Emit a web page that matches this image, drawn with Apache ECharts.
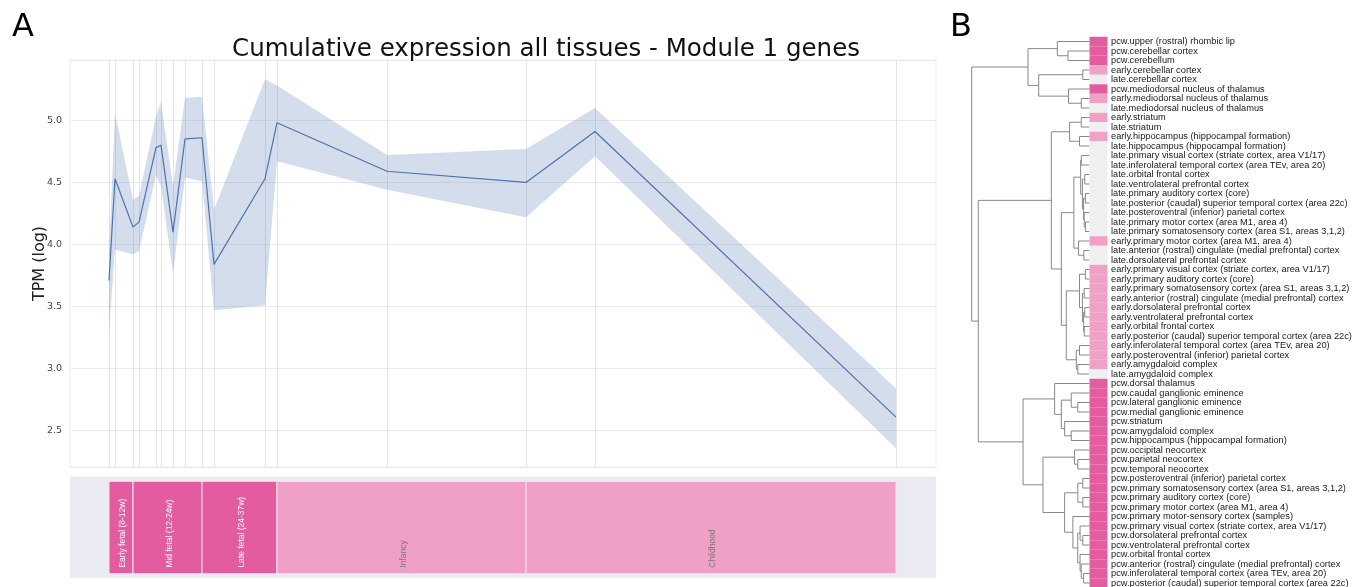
<!DOCTYPE html>
<html><head><meta charset="utf-8">
<script src="https://cdn.jsdelivr.net/npm/echarts@6/dist/echarts.min.js"></script>
<style>html,body{margin:0;padding:0;background:#fff}#c{width:1364px;height:587px}</style>
</head><body><div id="c"></div>
<script>
// ---- Panel A data ----
const ages = [39, 45, 63, 69, 86, 91, 103, 115, 132, 144, 195, 207, 317, 456, 525, 826];
const meanTPM = [3.71, 4.53, 4.14, 4.18, 4.78, 4.80, 4.10, 4.85, 4.86, 3.84, 4.53, 4.98, 4.59, 4.50, 4.91, 2.61];
const lowerTPM = [3.30, 3.96, 3.92, 3.95, 4.56, 4.47, 3.77, 4.54, 4.51, 3.47, 3.51, 4.67, 4.44, 4.22, 4.71, 2.36];
const upperTPM = [3.95, 5.06, 4.36, 4.39, 5.03, 5.15, 4.47, 5.18, 5.19, 4.28, 5.33, 5.28, 4.72, 4.77, 5.10, 2.84];
const stageNames = ['Early fetal (8-12w)', 'Mid fetal (12-24w)', 'Late fetal (24-37w)', 'Infancy', 'Childhood'];
const stageStart = [39, 63, 132, 207, 456];
const stageEnd = [63, 132, 207, 456, 826];
const stageGroup = ['fetal', 'fetal', 'fetal', 'postnatal', 'postnatal'];

// ---- Panel B data ----
const tissueLabels = [
'pcw.upper (rostral) rhombic lip','pcw.cerebellar cortex','pcw.cerebellum','early.cerebellar cortex','late.cerebellar cortex',
'pcw.mediodorsal nucleus of thalamus','early.mediodorsal nucleus of thalamus','late.mediodorsal nucleus of thalamus',
'early.striatum','late.striatum','early.hippocampus (hippocampal formation)','late.hippocampus (hippocampal formation)',
'late.primary visual cortex (striate cortex, area V1/17)','late.inferolateral temporal cortex (area TEv, area 20)',
'late.orbital frontal cortex','late.ventrolateral prefrontal cortex','late.primary auditory cortex (core)',
'late.posterior (caudal) superior temporal cortex (area 22c)','late.posteroventral (inferior) parietal cortex',
'late.primary motor cortex (area M1, area 4)','late.primary somatosensory cortex (area S1, areas 3,1,2)',
'early.primary motor cortex (area M1, area 4)','late.anterior (rostral) cingulate (medial prefrontal) cortex',
'late.dorsolateral prefrontal cortex','early.primary visual cortex (striate cortex, area V1/17)',
'early.primary auditory cortex (core)','early.primary somatosensory cortex (area S1, areas 3,1,2)',
'early.anterior (rostral) cingulate (medial prefrontal) cortex','early.dorsolateral prefrontal cortex',
'early.ventrolateral prefrontal cortex','early.orbital frontal cortex',
'early.posterior (caudal) superior temporal cortex (area 22c)','early.inferolateral temporal cortex (area TEv, area 20)',
'early.posteroventral (inferior) parietal cortex','early.amygdaloid complex','late.amygdaloid complex',
'pcw.dorsal thalamus','pcw.caudal ganglionic eminence','pcw.lateral ganglionic eminence','pcw.medial ganglionic eminence',
'pcw.striatum','pcw.amygdaloid complex','pcw.hippocampus (hippocampal formation)','pcw.occipital neocortex',
'pcw.parietal neocortex','pcw.temporal neocortex','pcw.posteroventral (inferior) parietal cortex',
'pcw.primary somatosensory cortex (area S1, areas 3,1,2)','pcw.primary auditory cortex (core)',
'pcw.primary motor cortex (area M1, area 4)','pcw.primary motor-sensory cortex (samples)',
'pcw.primary visual cortex (striate cortex, area V1/17)','pcw.dorsolateral prefrontal cortex',
'pcw.ventrolateral prefrontal cortex','pcw.orbital frontal cortex',
'pcw.anterior (rostral) cingulate (medial prefrontal) cortex','pcw.inferolateral temporal cortex (area TEv, area 20)',
'pcw.posterior (caudal) superior temporal cortex (area 22c)'
];
// dendrogram: [mergeHeight, left, right]; leaves are row numbers (1-based)
const dendrogram =
[1.0,
  [0.522, [0.273, 1, [0.183, 2, 3]], [0.431, [0.057, 4, 5], [0.178, 6, [0.070, 7, 8]]]],
  [0.944,
    [0.324,
      [0.169, [0.070, 9, 10], [0.085, 11, 12]],
      [0.239,
        [0.133,
          [0.075, [0.07, 13, 14], [0.06, [0.04, 15, 16], [0.05, [0.035, 17, 18], [0.045, 19, [0.035, 20, 21]]]]],
          [0.093, 22, [0.048, 23, 24]]],
        [0.197,
          [0.085, [0.035, 25, 26], [0.06, [0.045, 27, 28], [0.05, [0.04, 29, 30], [0.045, 31, 32]]]],
          [0.112, [0.085, 33, 34], [0.099, 35, 36]]]]],
    [0.564,
      [0.296, 37, [0.239, [0.155, 38, [0.099, 39, 40]], [0.211, 41, [0.155, 42, 43]]]],
      [0.395,
        [0.127, 44, [0.099, 45, 46]],
        [0.211,
          [0.099, [0.057, 47, 48], [0.057, 49, 50]],
          [0.141, 51, [0.1, [0.08, 52, [0.057, 53, 54]], [0.08, 55, [0.07, 56, [0.05, 57, 58]]]]]]]]]];

// ---- build ----
const stripColors = {pcw: '#e35c9f', early: '#f0a1c7', late: '#efefef'};
const segs = [];
function layoutTree(node) {
  if (typeof node === 'number') return {h: 0, y: node};
  const a = layoutTree(node[1]), b = layoutTree(node[2]), h = node[0];
  segs.push({coords: [[a.h, a.y], [h, a.y], [h, b.y], [b.h, b.y]]});
  return {h: h, y: (a.y + b.y) / 2};
}
layoutTree(dendrogram);

const chart = echarts.init(document.getElementById('c'), null, {renderer: 'canvas'});
const gridTop = 36.75, rowH = 9.5, nRows = tissueLabels.length;
const option = {
  animation: false,
  backgroundColor: '#ffffff',
  textStyle: {fontFamily: 'DejaVu Sans'},
  title: [
    {text: 'A', left: 7, top: 7, textStyle: {fontSize: 32, fontWeight: 'normal', color: '#000', fontFamily: 'DejaVu Sans'}},
    {text: 'B', left: 945, top: 7, textStyle: {fontSize: 32, fontWeight: 'normal', color: '#000', fontFamily: 'DejaVu Sans'}},
    {text: 'Cumulative expression all tissues - Module 1 genes', left: 541, textAlign: 'center', top: 32,
     textStyle: {fontSize: 24.5, fontWeight: 'normal', color: '#111', fontFamily: 'DejaVu Sans'}}
  ],
  grid: [
    {left: 70, top: 60, width: 866, height: 407, show: true, borderColor: '#ebebeb', borderWidth: 1, backgroundColor: '#fff', outerBoundsMode: 'none', containLabel: false},
    {left: 70, top: 476.7, width: 866, height: 101.6, show: true, borderWidth: 0, backgroundColor: '#eaeaf2', outerBoundsMode: 'none', containLabel: false},
    {left: 971.7, top: gridTop, width: 117.8, height: nRows * rowH, outerBoundsMode: 'none', containLabel: false},
    {left: 1089.5, top: gridTop, width: 18, height: nRows * rowH, outerBoundsMode: 'none', containLabel: false}
  ],
  xAxis: [
    {gridIndex: 0, type: 'value', min: 0, max: 866, show: false},
    {gridIndex: 1, type: 'value', min: 0, max: 866, show: false},
    {gridIndex: 2, type: 'value', min: 0, max: 1.0, inverse: true, show: false},
    {gridIndex: 3, type: 'value', min: 0, max: 1, show: false}
  ],
  yAxis: [
    {gridIndex: 0, type: 'value', min: 2.208, max: 5.486, name: 'TPM (log)', nameLocation: 'middle', nameGap: 22,
     nameMoveOverlap: false,
     nameTextStyle: {fontSize: 16, color: '#222', fontFamily: 'DejaVu Sans'},
     axisLine: {show: false}, axisTick: {show: false},
     axisLabel: {fontSize: 9.5, color: '#444', margin: 8, showMinLabel: false, showMaxLabel: false, fontFamily: 'DejaVu Sans',
       formatter: v => v.toFixed(1)},
     splitLine: {show: true, lineStyle: {color: '#ebebeb', width: 1}}},
    {gridIndex: 1, type: 'value', min: -0.05, max: 1.05, show: false},
    {gridIndex: 2, type: 'value', min: 0.5, max: nRows + 0.5, inverse: true, show: false},
    {gridIndex: 3, type: 'category', data: tissueLabels, inverse: true, position: 'right',
     axisLine: {show: false}, axisTick: {show: false},
     axisLabel: {interval: 0, fontSize: 9.25, color: '#1a1a1a', margin: 3.5, fontFamily: 'Liberation Sans'}}
  ],
  series: [
    {type: 'custom', xAxisIndex: 0, yAxisIndex: 0, silent: true, z: 1,
     data: ages.map((a, i) => [a, lowerTPM[i], upperTPM[i]]),
     renderItem: function (params, api) {
       if (params.dataIndex !== 0) return null;
       const pts = [];
       for (let i = 0; i < ages.length; i++) pts.push(api.coord([ages[i], upperTPM[i]]));
       for (let i = ages.length - 1; i >= 0; i--) pts.push(api.coord([ages[i], lowerTPM[i]]));
       return {type: 'polygon', shape: {points: pts}, style: {fill: 'rgba(76,114,176,0.24)'}};
     }},
    {type: 'line', xAxisIndex: 0, yAxisIndex: 0, z: 3, showSymbol: false, silent: true,
     data: ages.map((a, i) => [a, meanTPM[i]]),
     lineStyle: {color: '#4c72b0', width: 1.2},
     markLine: {silent: true, symbol: 'none', z: 0, label: {show: false},
       lineStyle: {color: '#e4e4ea', width: 1, type: 'solid'},
       data: ages.map(a => ({xAxis: a}))}},
    {type: 'custom', xAxisIndex: 1, yAxisIndex: 1, silent: true,
     data: stageNames.map((n, i) => [stageStart[i], stageEnd[i], i]),
     renderItem: function (params, api) {
       const i = api.value(2);
       const s = api.coord([api.value(0), 1]);
       const e = api.coord([api.value(1), 0]);
       const fetal = stageGroup[i] === 'fetal';
       return {type: 'group', children: [
         {type: 'rect', shape: {x: s[0], y: s[1], width: e[0] - s[0], height: e[1] - s[1]},
          style: {fill: fetal ? '#e35c9f' : '#f0a0c6', stroke: '#f6e6ef', lineWidth: 1}},
         {type: 'text', x: (s[0] + e[0]) / 2 + 2, y: e[1] - 6, rotation: Math.PI / 2,
          style: {text: stageNames[i], fill: fetal ? '#ffffff' : '#7a7a7a', font: '8.5px "Liberation Sans"',
                  align: 'left', verticalAlign: 'middle'}}
       ]};
     }},
    {type: 'lines', coordinateSystem: 'cartesian2d', xAxisIndex: 2, yAxisIndex: 2, polyline: true, silent: true,
     data: segs, lineStyle: {color: '#888888', width: 1, opacity: 1}},
    {type: 'bar', xAxisIndex: 3, yAxisIndex: 3, silent: true, barWidth: '100%', barCategoryGap: '0%',
     data: tissueLabels.map(t => ({value: 1, itemStyle: {color: stripColors[t.split('.')[0]]}}))}
  ]
};
chart.setOption(option);
</script></body></html>
